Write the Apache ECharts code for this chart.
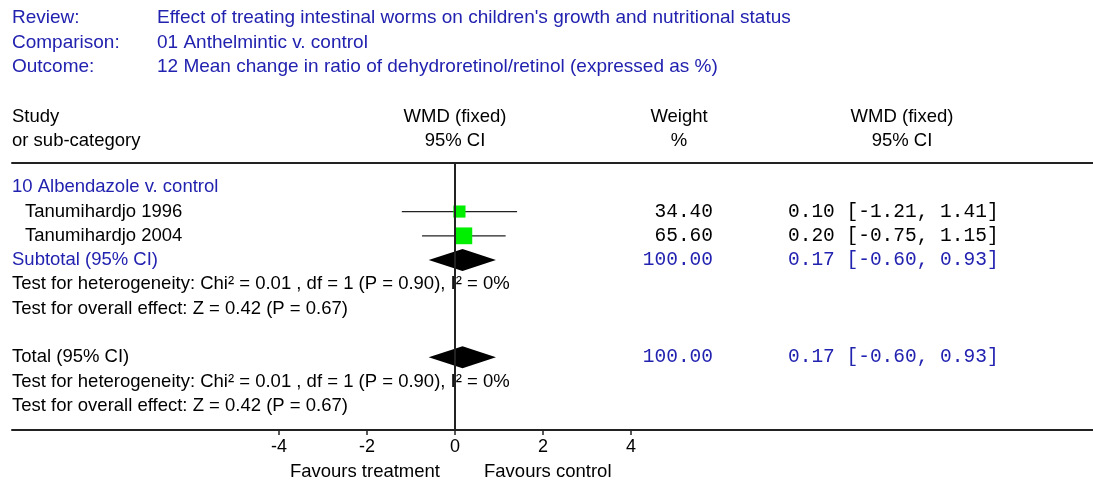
<!DOCTYPE html>
<html>
<head>
<meta charset="utf-8">
<script src="https://cdn.jsdelivr.net/npm/echarts@6/dist/echarts.min.js"></script>
<style>
  html, body { margin: 0; padding: 0; background: #fff; }
  #demo { width: 1093px; height: 488px; }
</style>
</head>
<body>
<div id="demo"></div>
<script>
const headerLabels = ['Review:', 'Comparison:', 'Outcome:']
const headerValues = [
  'Effect of treating intestinal worms on children\'s growth and nutritional status',
  '01 Anthelmintic v. control',
  '12 Mean change in ratio of dehydroretinol/retinol (expressed as %)'
]
const groupName = '10 Albendazole v. control'
const studies = ['Tanumihardjo 1996', 'Tanumihardjo 2004']
const studyMean = [0.10, 0.20]
const studyLow = [-1.21, -0.75]
const studyHigh = [1.41, 1.15]
const studyWeight = [34.40, 65.60]
// [mean, low, high, weight]
const subtotal = [0.17, -0.60, 0.93, 100.00]
const total = [0.17, -0.60, 0.93, 100.00]
const hetText = 'Test for heterogeneity: Chi² = 0.01 , df = 1 (P = 0.90), I² = 0%'
const effectText = 'Test for overall effect: Z = 0.42 (P = 0.67)'
const tickValues = [-4, -2, 0, 2, 4]

const BLUE = '#2222b0'
const SANS = '18.5px "Liberation Sans", Arial, sans-serif'
const HEAD = '19px "Liberation Sans", Arial, sans-serif'
const MONO = '19.5px "Liberation Mono", "Courier New", monospace'

function ci (m, lo, hi) {
  return m.toFixed(2) + ' [' + lo.toFixed(2) + ', ' + hi.toFixed(2) + ']'
}

// text rows of the table, row index = position on the y axis
const rows = [
  { row: 0, label: groupName, color: BLUE, indent: false },
  { row: 1, label: studies[0], color: '#000', indent: true, w: studyWeight[0].toFixed(2), ci: ci(studyMean[0], studyLow[0], studyHigh[0]), numColor: '#000' },
  { row: 2, label: studies[1], color: '#000', indent: true, w: studyWeight[1].toFixed(2), ci: ci(studyMean[1], studyLow[1], studyHigh[1]), numColor: '#000' },
  { row: 3, label: 'Subtotal (95% CI)', color: BLUE, indent: false, w: subtotal[3].toFixed(2), ci: ci(subtotal[0], subtotal[1], subtotal[2]), numColor: BLUE },
  { row: 4, label: hetText, color: '#000', indent: false },
  { row: 5, label: effectText, color: '#000', indent: false },
  { row: 7, label: 'Total (95% CI)', color: '#000', indent: false, w: total[3].toFixed(2), ci: ci(total[0], total[1], total[2]), numColor: BLUE },
  { row: 8, label: hetText, color: '#000', indent: false },
  { row: 9, label: effectText, color: '#000', indent: false }
]

const studyData = studies.map(function (s, i) {
  return [studyMean[i], studyLow[i], studyHigh[i], studyWeight[i], i + 1]
})
const diamondData = [
  [subtotal[0], subtotal[1], subtotal[2], 3],
  [total[0], total[1], total[2], 7]
]

const chart = echarts.init(document.getElementById('demo'))

const headerGraphics = []
headerLabels.forEach(function (t, i) {
  const y = 18 + i * 24.5
  headerGraphics.push({ type: 'text', x: 12, y: y, style: { text: t, font: HEAD, fill: BLUE, verticalAlign: 'middle' } })
  headerGraphics.push({ type: 'text', x: 157, y: y, style: { text: headerValues[i], font: HEAD, fill: BLUE, verticalAlign: 'middle' } })
})
const colHeads = [
  [12, 'Study', 'or sub-category', 'left'],
  [455, 'WMD (fixed)', '95% CI', 'center'],
  [679, 'Weight', '%', 'center'],
  [902, 'WMD (fixed)', '95% CI', 'center']
]
colHeads.forEach(function (c) {
  headerGraphics.push({ type: 'text', x: c[0], y: 117, style: { text: c[1], font: SANS, fill: '#000', align: c[3], verticalAlign: 'middle' } })
  headerGraphics.push({ type: 'text', x: c[0], y: 141, style: { text: c[2], font: SANS, fill: '#000', align: c[3], verticalAlign: 'middle' } })
})
headerGraphics.push({ type: 'text', x: 440, y: 472, style: { text: 'Favours treatment', font: SANS, fill: '#000', align: 'right', verticalAlign: 'middle' } })
headerGraphics.push({ type: 'text', x: 484, y: 472, style: { text: 'Favours control', font: SANS, fill: '#000', align: 'left', verticalAlign: 'middle' } })

const option = {
  animation: false,
  backgroundColor: '#fff',
  graphic: headerGraphics,
  grid: { left: 12, right: 0, top: 163, bottom: 58 },
  xAxis: [{
    type: 'value',
    position: 'bottom',
    min: -10.07,
    max: 14.5,
    splitLine: { show: false },
    axisLine: { onZero: false, lineStyle: { color: '#222', width: 2 } },
    axisTick: { customValues: tickValues, length: 5, lineStyle: { color: '#222', width: 1.5 } },
    axisLabel: { customValues: tickValues, color: '#000', fontSize: 18, fontFamily: 'Liberation Sans', margin: 8 }
  }, {
    type: 'value',
    position: 'top',
    min: -10.07,
    max: 14.5,
    splitLine: { show: false },
    axisLine: { onZero: false, lineStyle: { color: '#222', width: 2 } },
    axisTick: { show: false },
    axisLabel: { show: false }
  }],
  yAxis: {
    type: 'value',
    inverse: true,
    min: -1.0,
    max: 10,
    show: false
  },
  series: [{
    // line of no effect
    type: 'line',
    data: [],
    z: 1,
    markLine: {
      silent: true,
      symbol: 'none',
      label: { show: false },
      lineStyle: { color: '#222', width: 2, type: 'solid' },
      data: [{ xAxis: 0 }]
    }
  }, {
    type: 'custom',
    z: 3,
    data: studyData,
    renderItem: function (params, api) {
      const m = api.coord([api.value(0), api.value(4)])
      const lo = api.coord([api.value(1), api.value(4)])
      const hi = api.coord([api.value(2), api.value(4)])
      const size = 2.07 * Math.sqrt(api.value(3))
      return {
        type: 'group',
        children: [{
          type: 'line',
          shape: { x1: lo[0], y1: lo[1], x2: hi[0], y2: hi[1] },
          style: { stroke: '#222', lineWidth: 1.2 }
        }, {
          type: 'rect',
          shape: { x: m[0] - size / 2, y: m[1] - size / 2, width: size, height: size },
          style: { fill: '#00ee00' }
        }]
      }
    }
  }, {
    type: 'custom',
    z: 3,
    data: diamondData,
    renderItem: function (params, api) {
      const m = api.coord([api.value(0), api.value(3)])
      const lo = api.coord([api.value(1), api.value(3)])
      const hi = api.coord([api.value(2), api.value(3)])
      return {
        type: 'polygon',
        shape: { points: [[lo[0], lo[1]], [m[0], m[1] - 11], [hi[0], hi[1]], [m[0], m[1] + 11]] },
        style: { fill: '#000' }
      }
    }
  }, {
    // table text
    type: 'custom',
    z: 0,
    data: rows.map(function (r) { return [0, r.row] }),
    renderItem: function (params, api) {
      const r = rows[params.dataIndex]
      const y = api.coord([0, api.value(1)])[1]
      const children = [{
        type: 'text',
        x: r.indent ? 25 : 12,
        y: y,
        style: { text: r.label, font: SANS, fill: r.color, verticalAlign: 'middle' }
      }]
      if (r.w) {
        children.push({
          type: 'text', x: 713, y: y,
          style: { text: r.w, font: MONO, fill: r.numColor, align: 'right', verticalAlign: 'middle' }
        })
        children.push({
          type: 'text', x: 788, y: y,
          style: { text: r.ci, font: MONO, fill: r.numColor, verticalAlign: 'middle' }
        })
      }
      return { type: 'group', children: children }
    }
  }]
}

chart.setOption(option)
</script>
</body>
</html>
